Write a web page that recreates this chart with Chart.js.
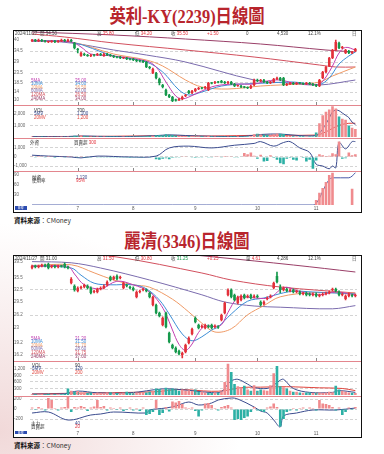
<!DOCTYPE html>
<html><head><meta charset="utf-8">
<script src="https://cdn.jsdelivr.net/npm/chart.js@4.4.1/dist/chart.umd.min.js"></script>
<style>
html,body{margin:0;padding:0}
body{width:384px;height:454px;overflow:hidden;position:relative;background:radial-gradient(ellipse 300px 260px at 0% 95%,#f1d9d9 0%,#f8eded 40%,#ffffff 80%);font-family:"Liberation Sans","Noto Sans CJK TC",sans-serif}
canvas{position:absolute}
.t{position:absolute;white-space:nowrap;font-size:4.5px;line-height:5px;color:#555;font-family:"Liberation Sans","Noto Sans CJK TC",sans-serif}
.title{position:absolute;left:-5px;width:384px;text-align:center;font-family:"Liberation Serif","Noto Sans CJK TC",serif;font-weight:bold;font-size:19px;line-height:20px;color:#b8252d;transform:scaleX(0.86);transform-origin:50% 50%}
.src{position:absolute;left:14px;font-size:6.5px;line-height:7px;color:#333;font-family:"Noto Sans CJK TC",sans-serif}
.fbg{position:absolute;background:#fff}
.fl{position:absolute;border:1.5px solid #111;box-sizing:border-box}
.sep{position:absolute;left:14px;width:347px;height:1.5px;background:#e3868e}
.box{position:absolute;background:#2c4cb0;color:#fff;font-size:3px;line-height:4px;text-align:center}
</style></head>
<body>
<div class="title" style="top:7px">英利-KY(2239)日線圖</div>
<div class="fbg" style="left:13px;top:30px;width:349px;height:183px"></div>
<div class="title" style="top:232px">麗清(3346)日線圖</div>
<div class="fbg" style="left:13px;top:255px;width:349px;height:183px"></div>
<div class="src" style="top:217px"><b style="color:#111">資料來源</b>：CMoney</div>
<div class="src" style="top:442px"><b style="color:#111">資料來源</b>：CMoney</div>
<script>
// ---------- shared categories ----------
const DAYS = Array.from({length:100},(_,i)=>'D'+(i+1));
const MONTH_IDX = [14,31,50,69,87];
const MONTH_LBL = ['7','8','9','10','11'];

// ---------- 英利-KY (2239) ----------
const c1Open = [39.5,40,39.5,40,39.5,39,39,39.5,39,39.5, 40,39.5,40,38.5,35.5,32,33,32.5,32,32.5,
 32.5,33,32,33,32.5,32,31.5,31.5,31,31, 30.5,30.5,30,29.5,29.5,29,26.5,23.5,23.5,20.5,
 17.5,15,12.5,11.5,10,10,10.5,12,14.5,13.5, 14.5,15.5,16,16,15,18.5,18.5,19,19.5,19,
 18.5,19,18,17,17,16.5,16.3,16,17.5,20, 19.5,20,19,18.5,19,20.5,21,21,17.5,18,
 18.5,18,18.5,18.3,18,18.5,18,17.5,17,21, 24,27,31,35,38.5,36,33.5,34.5,33.5,34.5];
const c1Close = [40,39.5,40,39.5,39.2,39.1,39.5,39,39.5,40, 39.5,40,39.5,36,35,33.5,32.5,32,32.5,32.2,
 33,32.5,33,32.5,32,31.5,31.2,31,31.1,30.5, 30.2,30,29.5,29.4,29,26.5,26,25.5,21,18.5,
 16.5,12.5,11.5,9.5,9.8,10.5,11.5,12.5,13.5,14.5, 15.5,16,15.8,16.5,18.5,18.3,19,18.8,18.8,18.5,
 19,18,17,17.1,16.5,16.3,16,17,20,19.5, 20,19,18.5,19,20.5,21,20,17.5,18,18.5,
 18,18.5,18.3,18,18.5,18,17.5,17,20,24, 26.5,31,35,39,36,36.5,35,33.5,34,35.5];
const c1High = [40.3,40.3,40.4,40.3,39.8,39.4,39.8,39.8,39.8,40.4, 40.3,40.5,40.3,38.8,35.8,34,33.4,32.8,32.8,32.8,
 33.3,33.3,33.4,33.3,32.8,32.3,31.8,31.8,31.4,31.3, 30.8,30.8,30.3,29.8,29.8,29.3,26.8,26,23.8,21,
 17.8,15.4,12.8,11.8,10.4,10.8,11.9,12.8,14.8,14.8, 15.8,16.3,16.3,16.8,18.8,18.8,19.3,19.3,19.8,19.3,
 19.3,19.3,18.3,17.4,17.3,16.8,16.6,17.3,20.4,20.4, 20.3,20.3,19.3,19.3,20.8,21.5,21.3,21.3,18.3,18.8,
 18.8,18.8,18.8,18.6,18.8,18.8,18.3,17.8,20.3,24.3, 26.8,31.3,35.3,40,39,36.8,35.3,34.8,34.3,35.8];
const c1Low = [39.2,39.2,39.2,39.2,38.9,38.7,38.8,38.7,38.8,39.2, 39.2,39.2,39.1,35.5,33.5,31.8,32.2,31.8,31.7,31.9,
 32.2,32.2,31.8,32.2,31.8,31.2,31,30.7,30.7,30.2, 30,29.7,29.2,29.1,28.7,26.2,25.6,23.2,20.6,17.5,
 16,12.2,11.2,9.2,9.4,9.7,10.2,11.7,13.2,13.2, 14.2,15.2,15.5,15.7,14.7,18,18.2,18.5,18.5,18.2,
 18.2,17.7,16.7,16.8,16.2,16,15.7,15.7,17.2,19.2, 19.2,18.7,18.2,18.2,18.7,20.2,19.7,17.2,17.2,17.7,
 17.7,17.7,18,17.7,17.7,17.7,17.2,16.7,16.7,20.7, 23.7,26.7,30.7,34.7,35.7,35.7,33.2,33.2,33.2,34.2];
const c1MA5   = [[0,39.5],[12,39],[15,36.5],[18,33],[25,32],[35,29.5],[38,26.5],[41,19],[44,12],[46,10.6],[48,11.5],[52,14.5],[56,17],[62,18],[68,18],[72,19.5],[76,20],[80,18.5],[86,17.8],[88,18],[90,21.5],[92,27],[94,33.5],[96,36.3],[99,35]];
const c1MA10  = [[0,39.5],[12,39],[25,32],[35,29],[40,24],[45,15],[48,12.5],[52,14],[58,17],[65,18],[72,18.5],[80,19],[88,17.8],[91,21],[94,28],[97,32],[99,34]];
const c1MA20  = [[0,39.5],[12,39],[25,33],[35,30],[40,27],[47,20],[52,16.5],[60,15.5],[70,17],[82,18],[88,19],[92,22],[99,26.5]];
const c1MA60  = [[0,40],[12,38.5],[25,35],[35,32.5],[47,29],[68,20],[78,18.5],[88,17.5],[99,20]];
const c1MA120 = [[0,43],[10,41.5],[25,38.5],[47,35],[68,31.5],[88,27.5],[93,26.5],[99,26.5]];
const c1MA240 = [[0,44],[25,42.5],[47,40.5],[70,38],[90,35],[99,34]];
const c1Vol = [40,30,25,35,30,20,25,30,25,35, 30,40,35,120,90,150,80,60,50,45,
 40,40,35,50,45,40,35,30,40,35, 40,30,35,45,40,60,80,120,150,180,
 160,250,200,180,120,100,90,80,70,60, 60,50,55,45,80,60,50,45,40,45,
 50,55,70,60,50,45,40,60,250,280, 220,200,180,160,240,300,280,260,90,80,
 70,60,55,60,50,45,50,400,1200,1900, 2200,2400,2700,2500,1800,1600,1500,1000,800,700];
const c1VolMA5  = [[0,35],[10,30],[15,95],[20,60],[30,40],[38,120],[42,190],[47,130],[55,60],[65,60],[70,220],[76,260],[82,120],[87,130],[88,340],[89,700],[90,1150],[91,1650],[92,2200],[93,2350],[94,2300],[95,2100],[96,1900],[97,1700],[98,1300],[99,1100]];
const c1VolMA20 = [[0,40],[20,55],[40,110],[55,90],[70,150],[87,170],[89,320],[91,600],[93,900],[95,1100],[97,1200],[99,1200]];
const c1Flow = [20,-30,10,30,-20,10,20,-10,0,30, -20,10,20,-60,-40,80,-30,-40,-20,-50,
 -30,-40,-20,-30,-40,-30,-20,-40,-30,-20, -10,-30,-40,-20,-30,-60,-80,-50,-250,-300,
 -200,-150,-250,-100,-80,-40,30,20,-60,-40, -100,-30,-20,-50,-80,-30,20,30,-20,10,
 20,30,-40,-30,40,450,300,500,150,-200, 250,-500,-450,200,-100,-300,-700,-800,-200,-100,
 -300,-400,50,-100,-500,-300,-1300,-400,300,200, 100,150,400,300,1700,-200,-150,500,200,300];
const c1FlowLine = [[0,200],[5,100],[12,0],[15,-100],[20,100],[30,0],[38,100],[42,1000],[48,1200],[55,1000],[62,1300],[68,1500],[70,1700],[74,1200],[77,1600],[79,1700],[82,1000],[85,500],[87,-800],[89,-1000],[91,-1300],[92,-1000],[93,-1200],[94,1600],[96,900],[98,1700],[99,1700]];
const c1Ratio = [[87,15],[88,36],[89,50],[90,68],[91,88],[92,95],[98,48]];
const c1RatioLine = [[0,0],[86,0],[87,5],[88,20],[89,40],[90,60],[91,75],[92,80],[97,80],[98,85],[99,95]];
const c1PriceTicks = [40,37.5,34.5,32,29,26.5,23.5,21,18.5,16,14,12,10];
const c1PriceGrid  = [34.5,29,23.5,18.5,14,10];

// ---------- 麗清 (3346) ----------
const c2Open = [38,38.5,38.25,38.5,38.75,39,38.25,38.5,38.25,38.5, 39,38.25,34.25,33.5,32.25,33,33.25,33.5,33,32,
 32,32.75,33,33.75,35.75,35.25,36,35.5,33,33.75, 33.25,33,30.75,32,32.5,32.5,31.75,28.75,28.75,26.75,
 23.75,26.75,21.75,18.75,18,17.25,16.25,17,19.25,21.5, 25.5,23.75,23.25,23,23.5,23.75,23.25,23.25,25,26.75,
 31.25,32.5,31.25,29.25,30,31.25,30.75,31.25,30.75,31, 29.5,29,30.25,30.75,33,36,33.25,32.5,32.75,32.25,
 32.5,32,32,31.5,31.75,31.5,31.25,31.5,31,31.25, 31.5,31.75,32.5,32.75,32,31.25,30.25,31,31.25,31];
const c2Close = [38.5,38.25,38.5,38.75,38.5,38,38.5,38.25,38.5,38.4, 38.25,38,35.25,32.5,33,33.25,33.75,33,31.75,32.25,
 32.75,33,33.5,34.5,35,35.75,35.25,35.75,34.25,33.5, 33,32.5,32,32.25,32.75,32.25,30.75,30.75,26.75,26,
 25.5,23.25,19.5,18,17,16.5,16.75,18.75,20.5,22.75, 24.5,23,23.5,23.75,23.25,23,23.5,23.1,26.25,29.25,
 32.5,30.75,30,30.75,31,30.5,31,30.5,31,30.75, 28.75,29.5,30.5,31,34.25,34.5,32.5,33,32.25,32.5,
 32,32.25,31.5,31.75,31.25,31.25,31.5,31,31.25,31.5, 31.75,32,32.75,32.25,31.25,31.5,31,31.5,31,31.25];
const c2High = [38.7,38.7,38.7,39,39,39.2,38.7,38.7,38.7,38.7, 39.3,38.5,35.6,33.8,33.3,33.5,34,33.8,33.3,32.5,
 33,33.3,33.8,34.8,36,36,36.3,36,34.5,34, 33.5,33.3,32.3,32.5,33,32.8,32,31,29,27,
 25.8,27,22,19,18.3,17.5,17,19,20.8,23, 25.8,24,23.8,24,23.8,24,23.8,23.6,26.5,29.5,
 32.8,32.8,31.5,31,31.3,31.5,31.3,31.5,31.3,31.3, 29.8,29.8,30.8,31.3,34.5,37,33.8,33.3,33,32.8,
 32.8,32.5,32.3,32,32,31.8,31.8,31.8,31.5,31.8, 32,32.3,33,33,32.3,31.8,31.3,31.8,31.5,31.5];
const c2Low = [37.8,38,38,38.3,38.3,37.8,38,38,38,38.2, 38,37.8,34,32.2,32,32.8,33,32.8,31.5,31.8,
 31.8,32.5,32.8,33.5,34.8,35,35,35.3,32.8,33.3, 32.8,32.3,30.5,31.8,32.3,32,30.5,28.5,26.5,25.8,
 23.5,23,19.3,17.8,16.8,16.3,15.5,16.8,19,21.3, 24.3,22.8,23,22.8,23,22.8,23,22.9,24.8,26.5,
 31,30.5,29.8,29,29.8,30.3,30.5,30.3,30.5,30.5, 28.5,28.8,30,30.5,32.8,34.3,31.8,32.3,32,32,
 31.8,31.8,31.3,31.3,31,31,31,30.8,30.8,31, 31.3,31.5,32.3,32,31,31,30,30.8,30.8,30.8];
const c2MA5   = [[0,38.4],[11,38.4],[13,36.5],[16,33.8],[21,32.8],[26,34.7],[31,33.8],[36,32],[39,29.3],[41,26.5],[43,22.5],[45,18.9],[47,17.4],[49,19],[51,21.9],[53,23.5],[56,23.4],[58,23.8],[60,26.9],[63,30.6],[66,30.7],[70,30.4],[73,30.6],[76,32.6],[78,33.2],[82,32.1],[88,31.3],[93,32],[99,31.3]];
const c2MA10  = [[0,38.5],[12,38],[15,36.2],[19,34.2],[24,33.8],[31,33.8],[35,32.8],[39,30],[42,26.5],[46,21.5],[49,19.8],[52,20.8],[55,22.5],[57,23.3],[61,26.5],[66,29.7],[71,30.5],[76,31.6],[80,32.2],[86,32],[99,31.5]];
const c2MA20  = [[0,38.6],[12,38.8],[19,36.8],[25,35],[31,33.8],[36,33.2],[43,30.2],[48,27],[52,24.2],[56,22],[61,22.8],[66,26.3],[71,28.6],[76,30.8],[86,31.8],[99,31.7]];
const c2MA60  = [[0,39.6],[12,39.3],[21,38],[36,35],[52,31.3],[59,29.5],[68,28.5],[76,28.2],[92,27.8],[99,28.6]];
const c2MA120 = [[0,43],[26,40.75],[52,36.75],[61,35],[76,33.25],[99,31.75]];
const c2MA240 = [[0,45],[30,42.75],[56,40.75],[80,38.75],[99,37]];
const c2Vol = [40,30,35,50,30,60,40,30,35,30, 60,300,200,150,180,120,100,90,110,80,
 100,90,80,120,130,100,90,80,100,150, 90,80,120,90,100,110,150,200,300,280,
 250,330,260,300,250,200,250,200,220,180, 250,150,160,120,100,90,110,100,160,600,
 1430,1050,500,400,350,420,250,200,450,200, 250,220,200,450,1000,1330,400,350,300,200,
 150,150,120,100,110,120,100,90,110,100, 120,150,130,420,250,200,150,120,100,90];
const c2VolMA5  = [[0,40],[10,60],[14,180],[20,100],[30,100],[40,280],[46,240],[55,110],[58,150],[60,500],[61,650],[63,720],[66,500],[68,340],[72,300],[74,450],[76,680],[77,720],[80,300],[85,120],[92,120],[94,200],[99,120]];
const c2VolMA20 = [[0,50],[20,100],[38,150],[45,250],[55,170],[59,200],[64,340],[70,360],[78,380],[88,330],[95,300],[99,200]];
const c2Flow = [30,-20,40,20,-30,220,180,20,-30,30, 40,250,-60,40,30,60,40,-40,30,50,
 180,40,60,-30,30,20,-20,30,-40,-20, 30,-30,20,-40,30,-120,-100,-60,180,-120,
 -80,40,-50,150,130,160,100,30,20,30, -40,-150,-30,110,120,80,20,-30,40,60,
 80,30,-220,-200,-220,-180,-150,-60,40,-30, -40,-60,30,50,110,40,-350,-200,-60,-30,
 20,-30,20,30,-20,30,20,-30,180,110, 100,80,40,-30,30,-120,-60,30,-20,40];
const c2FlowLine = [[0,-80],[5,-60],[11,-220],[18,-120],[21,-100],[25,-60],[35,-80],[36,-20],[41,20],[44,60],[48,140],[51,80],[55,120],[57,180],[61,220],[63,200],[68,40],[70,-40],[72,-80],[74,-220],[76,-360],[77,-140],[81,-80],[86,-20],[93,-20],[99,20]];
const c2PriceTicks = [39.5,38,35.5,33.8,32.5,31.2,29.5,28,26.2,24.5,23,20.8,19.2,18,16.2];
const c2PriceGrid  = [38,32.5,26.2,20.8,18,16.2];

// ---------- styling ----------
const RED='#e3303a', GREEN='#16994c', VRED='#f08b8e', VTEAL='#2db0a5', NAVY='#3a4b8e';
const MA_COL={ma5:'#c23fb0',ma10:'#3d8ed6',ma20:'#ef9a66',ma60:'#7b6cae',ma120:'#d2505e',ma240:'#9a3f68'};
const FONT={size:4.5,family:'Liberation Sans'};

const monthTicks={id:'monthTicks',afterDatasetsDraw(chart,args,opts){
  if(!opts.on)return;const {ctx,chartArea:a,scales:{x}}=chart;ctx.save();ctx.strokeStyle='#8a8a8a';ctx.lineWidth=1;
  MONTH_IDX.forEach(i=>{const px=Math.round(x.getPixelForValue(i))+0.5;ctx.beginPath();ctx.moveTo(px,a.bottom-3);ctx.lineTo(px,a.bottom);ctx.stroke();});
  ctx.restore();}};

const pts=p=>p.map(([i,v])=>({x:DAYS[i],y:v}));
const line=(p,color,w)=>({type:'line',data:pts(p),borderColor:color,borderWidth:w||1,pointRadius:0,tension:0.35,order:5});
function candles(o,c,h,l){
  const col=o.map((v,i)=>c[i]>=v?RED:GREEN);
  return [
    {type:'bar',data:h.map((v,i)=>[l[i],v]),backgroundColor:col,barThickness:1,grouped:false,order:2},
    {type:'bar',data:o.map((v,i)=>[v,c[i]]),backgroundColor:col,barPercentage:0.78,categoryPercentage:1,grouped:false,order:1,minBarLength:1}
  ];
}
function panel(left,top,w,h,datasets,y,opt){
  opt=opt||{};
  const cv=document.createElement('canvas');cv.width=w;cv.height=h;cv.style.left=left+'px';cv.style.top=top+'px';
  document.body.appendChild(cv);
  return new Chart(cv.getContext('2d'),{type:'bar',data:{labels:DAYS,datasets},
    options:{responsive:false,animation:false,devicePixelRatio:1,layout:{padding:0},
      plugins:{legend:{display:false},tooltip:{enabled:false},monthTicks:{on:!opt.xlabels}},
      scales:{
        x:{display:!!opt.xlabels,offset:true,grid:{display:false,drawTicks:false},border:{display:false},
           ticks:{autoSkip:false,maxRotation:0,minRotation:0,padding:1,color:'#555',font:FONT,
             callback:(v,i)=>{const k=MONTH_IDX.indexOf(i);return k>=0?MONTH_LBL[k]:'';}},
           afterFit:s=>{s.height=opt.xlabels?7:0;s.paddingLeft=0;s.paddingRight=0;}},
        y:{min:y.min,max:y.max,position:'left',
           afterBuildTicks:s=>{s.ticks=y.ticks.map(v=>({value:v}));},
           afterFit:s=>{s.width=16.4;s.paddingTop=0;s.paddingBottom=0;},
           grid:{drawTicks:false,lineWidth:0.8,color:c=>(c.tick&&y.grid.includes(c.tick.value))?'#c9c9c9':'rgba(0,0,0,0)'},
           border:{display:false,dash:[3,2]},
           ticks:{padding:1,color:'#666',font:FONT,crossAlign:'far'}}
      }},
    plugins:[monthTicks]});
}
const volColors=(o,c)=>o.map((v,i)=>c[i]>=v?VRED:VTEAL);
const signColors=a=>a.map(v=>v>=0?VRED:VTEAL);

// ---------- chart 1 ----------
panel(14,31,343,74,[...candles(c1Open,c1Close,c1High,c1Low),
  line(c1MA5,MA_COL.ma5),line(c1MA10,MA_COL.ma10),line(c1MA20,MA_COL.ma20),
  line(c1MA60,MA_COL.ma60),line(c1MA120,MA_COL.ma120),line(c1MA240,MA_COL.ma240)],
  {min:7.5,max:44.5,ticks:c1PriceTicks,grid:c1PriceGrid});
panel(14,105,343,32,[{type:'bar',data:c1Vol,backgroundColor:volColors(c1Open,c1Close),barPercentage:0.8,categoryPercentage:1,order:1},
  line(c1VolMA5,NAVY),line(c1VolMA20,'#e0443c')],
  {min:0,max:2800,ticks:[2000,1500,1000,500],grid:[2000,1500,1000,500]});
panel(14,138,343,33,[{type:'bar',data:c1Flow,backgroundColor:signColors(c1Flow),barPercentage:0.8,categoryPercentage:1,order:1},
  line(c1FlowLine,NAVY)],
  {min:-1550,max:2100,ticks:[1000,0,-1000],grid:[1000,0,-1000]});
panel(14,171,343,41,[{type:'bar',data:pts(c1Ratio),backgroundColor:VRED,barPercentage:0.8,categoryPercentage:1,order:1},
  line(c1RatioLine,'#4a5aa8')],
  {min:0,max:100,ticks:[90,75,60,45,30,15],grid:[75,45,15]},{xlabels:true});

// ---------- chart 2 ----------
panel(14,256,343,105,[...candles(c2Open,c2Close,c2High,c2Low),
  line(c2MA5,MA_COL.ma5),line(c2MA10,MA_COL.ma10),line(c2MA20,MA_COL.ma20),
  line(c2MA60,MA_COL.ma60),line(c2MA120,MA_COL.ma120),line(c2MA240,MA_COL.ma240)],
  {min:14.75,max:41,ticks:c2PriceTicks,grid:c2PriceGrid});
panel(14,361,343,34,[{type:'bar',data:c2Vol,backgroundColor:volColors(c2Open,c2Close),barPercentage:0.8,categoryPercentage:1,order:1},
  line(c2VolMA5,NAVY),line(c2VolMA20,'#e0443c')],
  {min:0,max:1560,ticks:[1200,900,600,300],grid:[1200,900,600,300]});
panel(14,396,343,41,[{type:'bar',data:c2Flow,backgroundColor:signColors(c2Flow),barPercentage:0.8,categoryPercentage:1,order:1},
  line(c2FlowLine,NAVY)],
  {min:-420,max:260,ticks:[200,100,0,-100,-200],grid:[200,100,0,-100,-200]},{xlabels:true});

// ---------- overlays (separators, frame, small texts) ----------
function add(html,cls,style){const d=document.createElement('div');d.className=cls;d.style.cssText=style;d.innerHTML=html;document.body.appendChild(d);return d;}
function T(x,y,html,color){add(html,'t','left:'+x+'px;top:'+(y-2.5)+'px;'+(color?'color:'+color:''));}
[104.5,137.5,170.5,360.5,395.5].forEach(y=>add('','sep','top:'+y+'px'));
add('','fl','left:13px;top:30px;width:349px;height:183px');
add('','fl','left:13px;top:255px;width:349px;height:183px');
add('日線','box','left:14.5px;top:205.5px;width:12px;height:4px');
add('日線','box','left:14.5px;top:430.5px;width:12px;height:3.5px');

const r=s=>'<span style="color:#e3303a">'+s+'</span>', g=s=>'<span style="color:#16994c">'+s+'</span>';
// header rows
[[33.5,['2024/11/27','開 34.50','高 '+r('35.80'),'低 '+r('34.20'),'收 '+r('35.50'),r('+1.50'),'0','4,530','12.1%','日']],
 [258.5,['2024/11/27','開 31.00','高 '+r('31.50'),'低 '+r('30.80'),'收 '+g('31.25'),r('+0.25'),'量 '+r('4.61'),'4,286','12.1%','日']]]
.forEach(([y,items])=>{[15,40,97,135,171,207,246,277,308,352].forEach((x,k)=>T(x,y,items[k],'#444'));});
// MA legends
const maNames=['5MA','10MA','20MA','60MA','120MA','240MA'],maCols=Object.values(MA_COL);
const c1MAval=['35.00','34.00','26.50','20.00','26.50','34.00'],c2MAval=['31.30','31.50','31.70','28.60','31.75','37.00'];
maNames.forEach((n,k)=>{T(31,80+k*3.6,n,maCols[k]);T(75,80+k*3.6,c1MAval[k],maCols[k]);
  T(31,338+k*3.6,n,maCols[k]);T(75,338+k*3.6,c2MAval[k],maCols[k]);});
// sub-panel legends
[['VOL','#333','700'],['5MV',NAVY,'1,100'],['20MV','#e0443c','1,200']].forEach(([a,c,v],k)=>{T(34,110+k*3.6,a,c);T(77,110+k*3.6,v,c);});
[['VOL','#333','90'],['5MV',NAVY,'120'],['20MV','#e0443c','200']].forEach(([a,c,v],k)=>{T(32,365+k*3.6,a,c);T(75,365+k*3.6,v,c);});
T(30,142,'外資','#333');T(74,142,'買賣超 '+r('300'),'#333');
T(32,177,'融資','#333');T(32,180.5,'使用率','#333');T(76,177,'1,130',NAVY);T(76,180.5,r('95%'));
T(31,423,'主力','#333');T(31,426.5,'買賣超','#333');T(75,423,'40',NAVY);T(75,426.5,r('20'));
</script>
</body></html>
